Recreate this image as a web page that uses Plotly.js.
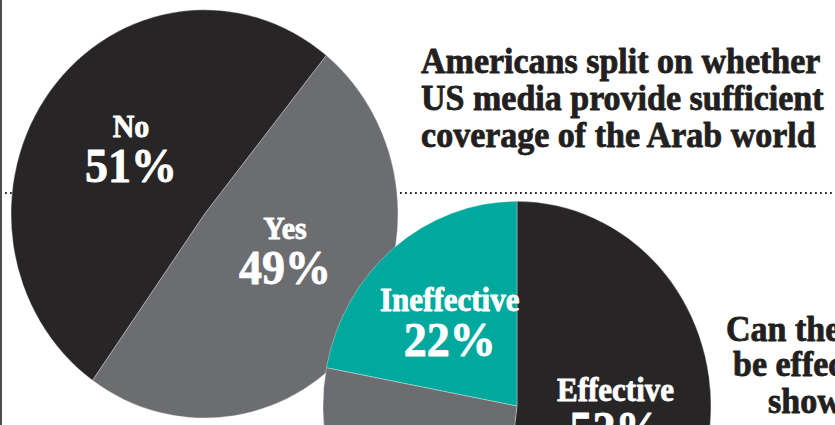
<!DOCTYPE html>
<html><head><meta charset="utf-8">
<script src="https://cdn.plot.ly/plotly-3.0.1.min.js"></script>
<style>
html,body{margin:0;padding:0;width:835px;height:425px;overflow:hidden;background:#fff}
#wrap{width:835px;height:425px;overflow:hidden;position:relative}
#chart{width:835px;height:600px;transform:scaleY(1.055);transform-origin:0 0}
#chart g.annotation text{stroke-width:0.8px;stroke-linejoin:round}
#chart g.annotation[data-index="0"] text,#chart g.annotation[data-index="1"] text,
#chart g.annotation[data-index="2"] text,#chart g.annotation[data-index="3"] text,
#chart g.annotation[data-index="4"] text,#chart g.annotation[data-index="5"] text{stroke:#231f20}
#chart g.annotation[data-index="6"] text,#chart g.annotation[data-index="7"] text,
#chart g.annotation[data-index="8"] text,#chart g.annotation[data-index="9"] text{stroke:#ffffff}
</style></head><body>
<div id="wrap"><div id="chart"></div></div>
<script>
// ---- data ----
const coverageLabels = ['Yes', 'No'];
const coverageValues = [49, 51];
const effectLabels = ['Effective', 'Not sure', 'Ineffective'];
const effectValues = [52, 26, 22];
const title1Lines = ['Americans split on whether', 'US media provide sufficient', 'coverage of the Arab world'];
const title2Lines = ['Can the media', 'be effective in', 'showing'];

// ---- styles / layout ----
const W = 835, H = 600;
const BLACK = '#272526', GRAY = '#6c6d71', TEAL = '#00a89d', INK = '#231f20';
const FONT = '"Liberation Serif", "Times New Roman", serif';

function dom(cx, cy, r) {
  return {x: [(cx - r) / W, (cx + r) / W], y: [1 - (cy + r) / H, 1 - (cy - r) / H]};
}
function ann(text, xpx, basePx, size, color, xanchor) {
  return {
    text: '<b>' + text + '</b>', xref: 'paper', yref: 'paper', showarrow: false,
    x: xpx / W, y: 1 - (basePx - 0.3375 * size) / H,
    xanchor: xanchor || 'center', yanchor: 'middle', borderpad: 0,
    font: {family: FONT, size: size, color: color}
  };
}
// two-line slice label: small name above large percentage
function sliceLabel(name, value, xpx, base1, s1, s2, F) {
  const top = base1 - 0.891 * s1;
  const bottom = base1 + 1.3 * F + 0.216 * s2;
  return {
    text: '<b><span style="font-size:' + s1 + 'px">' + name + '</span><br>' +
          '<span style="font-size:' + s2 + 'px">' + value + '%</span></b>',
    xref: 'paper', yref: 'paper', showarrow: false, align: 'center',
    x: xpx / W, y: 1 - ((top + bottom) / 2) / H,
    xanchor: 'center', yanchor: 'middle', borderpad: 0,
    font: {family: FONT, size: F, color: '#fff'}
  };
}

const traces = [
  {
    type: 'pie', labels: coverageLabels, values: coverageValues, sort: false,
    direction: 'clockwise', rotation: 39, textinfo: 'none', hoverinfo: 'skip',
    marker: {colors: [GRAY, BLACK], line: {color: 'rgba(255,255,255,0.45)', width: 0.7}},
    domain: dom(204.5, 202.8, 193.5), showlegend: false
  },
  {
    type: 'pie', labels: effectLabels, values: effectValues, sort: false,
    direction: 'clockwise', rotation: 0, textinfo: 'none', hoverinfo: 'skip',
    marker: {colors: [BLACK, GRAY, TEAL], line: {color: 'rgba(255,255,255,0.45)', width: 0.7}},
    domain: dom(517, 384.8, 194), showlegend: false
  }
];

const annotations = [];
// titles
title1Lines.forEach((t, i) => annotations.push(ann(t, 420, [69.2, 104.3, 139.3][i], 34, INK, 'left')));
title2Lines.forEach((t, i) => annotations.push(ann(t, [725, 732, 767][i], [323.2, 356.4, 390.5][i], 34, INK, 'left')));
// slice labels
annotations.push(sliceLabel(coverageLabels[1], coverageValues[1], 131, 129.9, 30, 46, 32.8));
annotations.push(sliceLabel(coverageLabels[0], coverageValues[0], 285, 226.5, 30, 46, 32.2));
annotations.push(sliceLabel(effectLabels[2], effectValues[2], 449, 295.2, 31, 46, 32.4));
annotations.push(sliceLabel(effectLabels[0], effectValues[0], 615, 380.1, 31, 46, 32.4));

const layout = {
  width: W, height: H, margin: {l: 0, r: 0, t: 0, b: 0},
  paper_bgcolor: '#fff', plot_bgcolor: '#fff', showlegend: false,
  shapes: [
    {type: 'line', xref: 'paper', yref: 'paper', layer: 'below',
     x0: 5 / W, x1: 1, y0: 1 - 183 / H, y1: 1 - 183 / H,
     line: {color: '#2a2a2a', width: 1.8, dash: '1.8px,3.2px'}},
    {type: 'line', xref: 'paper', yref: 'paper', layer: 'above',
     x0: 1 / W, x1: 1 / W, y0: 0, y1: 1,
     line: {color: '#4d4d4d', width: 2}}
  ],
  annotations: annotations
};

Plotly.newPlot('chart', traces, layout, {displayModeBar: false, staticPlot: true});
</script>
</body></html>
